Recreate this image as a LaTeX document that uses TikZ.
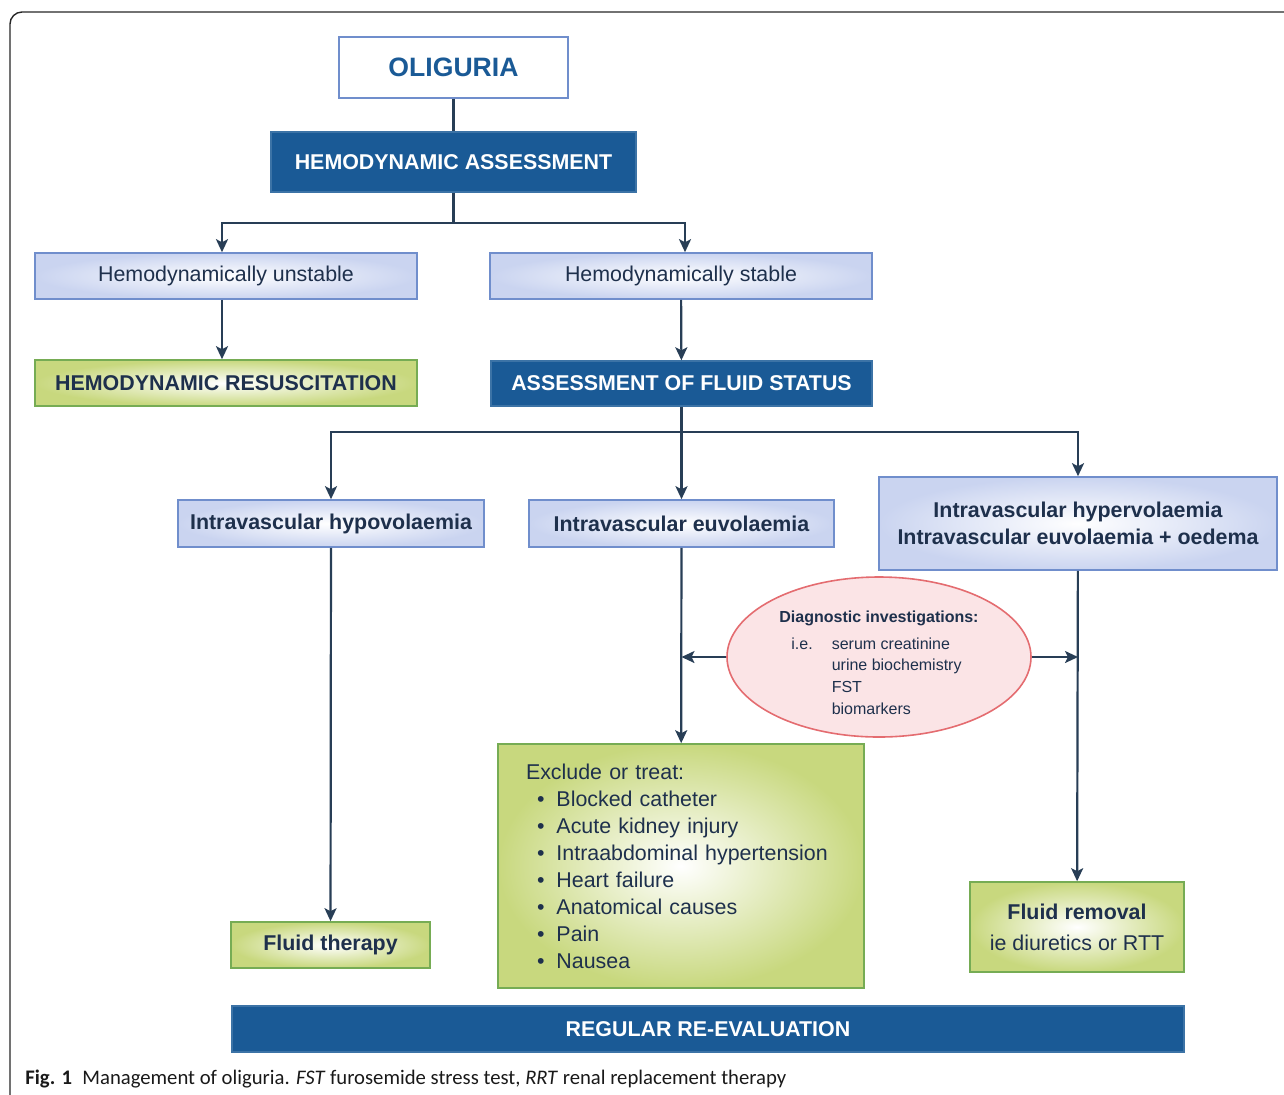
\documentclass[tikz,border=0pt]{standalone}
\usepackage{fontspec}
\setmainfont{Liberation Sans}
\newfontfamily\capfont{Carlito}
\usetikzlibrary{positioning,arrows.meta,calc,shapes.geometric}
\definecolor{navy}{RGB}{30,48,76}
\definecolor{deepblue}{RGB}{26,90,150}
\definecolor{paleblue}{RGB}{202,212,240}
\definecolor{edgeblue}{RGB}{112,142,204}
\definecolor{leaf}{RGB}{200,216,126}
\definecolor{edgegreen}{RGB}{118,172,84}
\definecolor{blush}{RGB}{251,228,230}
\definecolor{edgered}{RGB}{228,108,112}
\definecolor{linecol}{RGB}{40,62,86}

\begin{document}
\begin{tikzpicture}[x=0.5pt,y=-0.5pt,>={Stealth[length=6.5pt,width=6pt,inset=1.5pt]},
    every node/.style={font=\fontsize{10.7}{13.5}\selectfont,text=navy},
    titlebox/.style={draw=edgeblue,fill=white,line width=0.7pt,inner sep=0pt,font=\fontsize{13.3}{16}\selectfont\bfseries,text=deepblue},
    darkbox/.style={draw=deepblue!85!white,fill=deepblue,line width=0.7pt,text=white,inner sep=0pt,font=\fontsize{10.7}{13.5}\selectfont\bfseries},
    palebox/.style={draw=edgeblue,line width=0.8pt,inner color=white,outer color=paleblue,inner sep=0pt},
    leafbox/.style={draw=edgegreen,line width=0.8pt,inner color=white,outer color=leaf,inner sep=0pt},
    link/.style={draw=linecol,line width=1.1pt}]
  \useasboundingbox (0,0) rectangle (1284,1094);
  % frame
  \draw[black!85,line width=0.7pt,rounded corners=6pt] (1300,12) -- (10,12) -- (10,1110);

  \node[titlebox,minimum width=114.5pt,minimum height=30.5pt] (oli) at (453.5,67.5) {OLIGURIA};
  \node[darkbox,minimum width=182.5pt,minimum height=30pt] (hem) at (453.5,162) {HEMODYNAMIC ASSESSMENT};
  \node[palebox,minimum width=191pt,minimum height=23pt] (unst) at (226,276) {Hemodynamically unstable};
  \node[palebox,minimum width=191pt,minimum height=23pt] (stab) at (681,276) {Hemodynamically stable};
  \node[leafbox,minimum width=191pt,minimum height=23pt,font=\fontsize{10.7}{13.5}\selectfont\bfseries] (resus) at (226,383) {HEMODYNAMIC RESUSCITATION};
  \node[darkbox,minimum width=190.5pt,minimum height=22.5pt] (fluid) at (681.5,383.5) {ASSESSMENT OF FLUID STATUS};

  \node[palebox,minimum width=153pt,minimum height=23.5pt,font=\fontsize{10.7}{13.5}\selectfont\bfseries] (hypo) at (331,523.5) {Intravascular hypovolaemia};
  \node[palebox,minimum width=152.5pt,minimum height=23.5pt,font=\fontsize{10.7}{13.5}\selectfont\bfseries] (euvo) at (681.5,523.5) {Intravascular euvolaemia};
  \node[palebox,minimum width=199pt,minimum height=46.5pt,align=center,font=\fontsize{10.7}{13.5}\selectfont\bfseries] (hyper) at (1078,523.5) {Intravascular hypervolaemia\\Intravascular euvolaemia + oedema};

  \node[ellipse,draw=edgered,fill=blush,line width=0.8pt,minimum width=152pt,minimum height=80pt,inner sep=0pt,font=\fontsize{8}{10.8}\selectfont] (diag) at (879,657)
    {\raisebox{-3.5pt}[\height][\depth]{\begin{tabular}{@{}l@{\hspace{9.5pt}}l@{}}
      \multicolumn{2}{@{}l@{}}{\bfseries Diagnostic investigations:}\\[2.5pt]
      \hspace*{6pt}i.e. & serum creatinine\\
       & urine biochemistry\\
       & FST\\
       & biomarkers
     \end{tabular}}};

  \node[leafbox,minimum width=183pt,minimum height=122pt,inner xsep=14pt,text width=155pt,align=left] (excl) at (681,866)
    {Exclude or treat:\\
     \hspace*{5.5pt}\textbullet\hspace{6pt}Blocked catheter\\
     \hspace*{5.5pt}\textbullet\hspace{6pt}Acute kidney injury\\
     \hspace*{5.5pt}\textbullet\hspace{6pt}Intraabdominal hypertension\\
     \hspace*{5.5pt}\textbullet\hspace{6pt}Heart failure\\
     \hspace*{5.5pt}\textbullet\hspace{6pt}Anatomical causes\\
     \hspace*{5.5pt}\textbullet\hspace{6pt}Pain\\
     \hspace*{5.5pt}\textbullet\hspace{6pt}Nausea};
  \node[leafbox,minimum width=99.5pt,minimum height=23pt,font=\fontsize{10.7}{13.5}\selectfont\bfseries] (thera) at (330.5,945) {Fluid therapy};
  \node[leafbox,minimum width=107pt,minimum height=45pt,align=center,font=\fontsize{10.7}{15.5}\selectfont] (remov) at (1077,927) {\textbf{Fluid removal}\\ie diuretics or RTT};
  \node[darkbox,minimum width=476pt,minimum height=23pt] (reeval) at (708,1029) {REGULAR RE-EVALUATION};

  \node[anchor=base west,inner sep=0pt,text=black!90,font=\capfont\fontsize{10.35}{12}\selectfont] (cap) at (25,1084)
    {\textbf{Fig. 1}\enspace Management of oliguria. \textit{FST} furosemide stress test, \textit{RRT} renal replacement therapy};

  % connectors
  \coordinate (fork1) at (453.5,223);
  \coordinate (fork2) at (681.5,432);
  \draw[link] (oli) -- (hem);
  \draw[link] (hem) -- (fork1);
  \draw[link,->] (fork1) -| ($(unst.north)+(-4,0)$);
  \draw[link,->] (fork1) -| ($(stab.north)+(4,0)$);
  \draw[link,->] ($(unst.south)+(-4,0)$) -- ($(resus.north)+(-4,0)$);
  \draw[link,->] (stab) -- (fluid);
  \draw[link] (fluid) -- (fork2);
  \draw[link,->] (fork2) -| (hypo.north);
  \draw[link,->] (fork2) -- (euvo.north);
  \draw[link,->] (fork2) -| (hyper.north);
  \draw[link,->] (hypo) -- (thera);
  \draw[link,->] (euvo) -- (excl);
  \draw[link,->] (hyper) -- (remov);
  \draw[link,->] (diag.west) -- (diag.west -| euvo.south);
  \draw[link,->] (diag.east) -- (diag.east -| hyper.south);
\end{tikzpicture}
\end{document}
